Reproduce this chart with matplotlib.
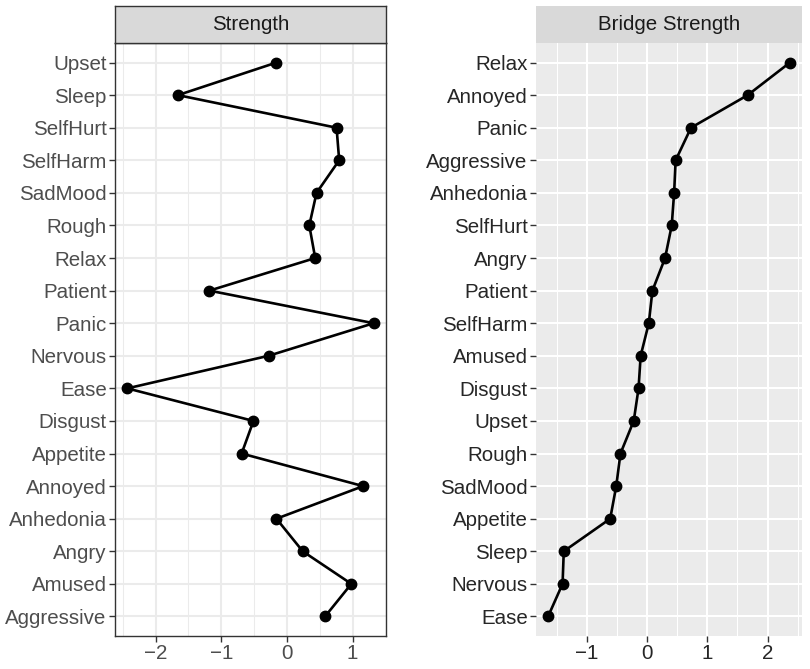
import matplotlib.pyplot as plt
import numpy as np
from matplotlib.ticker import FixedLocator

plt.rcParams['font.family'] = ['Liberation Sans', 'DejaVu Sans']

# node order top to bottom, as shown
strength_nodes = ['Upset', 'Sleep', 'SelfHurt', 'SelfHarm', 'SadMood', 'Rough', 'Relax',
                  'Patient', 'Panic', 'Nervous', 'Ease', 'Disgust', 'Appetite', 'Annoyed',
                  'Anhedonia', 'Angry', 'Amused', 'Aggressive']
strength_vals = [-0.16, -1.66, 0.755, 0.795, 0.45, 0.34, 0.43, -1.18, 1.32, -0.28,
                 -2.43, -0.51, -0.69, 1.16, -0.16, 0.24, 0.98, 0.58]

bridge_nodes = ['Relax', 'Annoyed', 'Panic', 'Aggressive', 'Anhedonia', 'SelfHurt', 'Angry',
                'Patient', 'SelfHarm', 'Amused', 'Disgust', 'Upset', 'Rough', 'SadMood',
                'Appetite', 'Sleep', 'Nervous', 'Ease']
bridge_vals = [2.37, 1.67, 0.73, 0.475, 0.45, 0.41, 0.30, 0.09, 0.03, -0.105, -0.14,
               -0.22, -0.44, -0.51, -0.61, -1.38, -1.40, -1.64]

W, H = 810, 669
fig = plt.figure(figsize=(W / 100, H / 100), dpi=100)


def frac(x0, y0, x1, y1):
    # pixel box (top-left origin) -> figure fraction rect
    return [x0 / W, 1 - y1 / H, (x1 - x0) / W, (y1 - y0) / H]


def panel(px, nodes, vals, title, major, minor, bw):
    x0, x1 = px
    ax = fig.add_axes(frac(x0, 43, x1, 636))
    n = len(nodes)
    y = np.arange(n)
    lo, hi = min(vals), max(vals)
    pad = 0.05 * (hi - lo)
    ax.set_xlim(lo - pad, hi + pad)
    ax.set_ylim(n - 0.4, -0.6)

    if bw:
        ax.set_facecolor('white')
        gcol = '#EBEBEB'
        tcol = '#4D4D4D'
        for s in ax.spines.values():
            s.set_color('#333333')
            s.set_linewidth(1.0)
    else:
        ax.set_facecolor('#EBEBEB')
        gcol = 'white'
        tcol = '#262626'
        for s in ax.spines.values():
            s.set_visible(False)

    ax.xaxis.set_major_locator(FixedLocator(major))
    ax.xaxis.set_minor_locator(FixedLocator(minor))
    ax.set_yticks(y)
    ax.set_yticklabels(nodes)
    ax.grid(True, which='major', color=gcol, lw=1.5)
    ax.grid(True, which='minor', axis='x', color=gcol, lw=0.75)
    ax.set_axisbelow(True)
    ax.tick_params(axis='both', which='major', length=4, width=1.0, color='#333333',
                   labelsize=14.8, labelcolor=tcol, pad=2)
    ax.tick_params(axis='x', which='minor', length=0)

    ax.plot(vals, y, color='black', lw=1.9, marker='o', ms=7.5, zorder=3,
            clip_on=False)

    st = fig.add_axes(frac(x0, 6, x1, 43))
    st.set_xticks([])
    st.set_yticks([])
    st.set_facecolor('#D9D9D9')
    for s in st.spines.values():
        if bw:
            s.set_color('#333333')
            s.set_linewidth(1.0)
        else:
            s.set_visible(False)
    st.text(0.5, 0.5, title, ha='center', va='center', fontsize=14.8, color='#1A1A1A',
            transform=st.transAxes)
    return ax


panel((115, 386), strength_nodes, strength_vals, 'Strength',
      [-2, -1, 0, 1], [-2.5, -1.5, -0.5, 0.5, 1.5], True)
panel((536, 802), bridge_nodes, bridge_vals, 'Bridge Strength',
      [-1, 0, 1, 2], [-1.5, -0.5, 0.5, 1.5, 2.5], False)

fig.savefig('out.png', dpi=100)
